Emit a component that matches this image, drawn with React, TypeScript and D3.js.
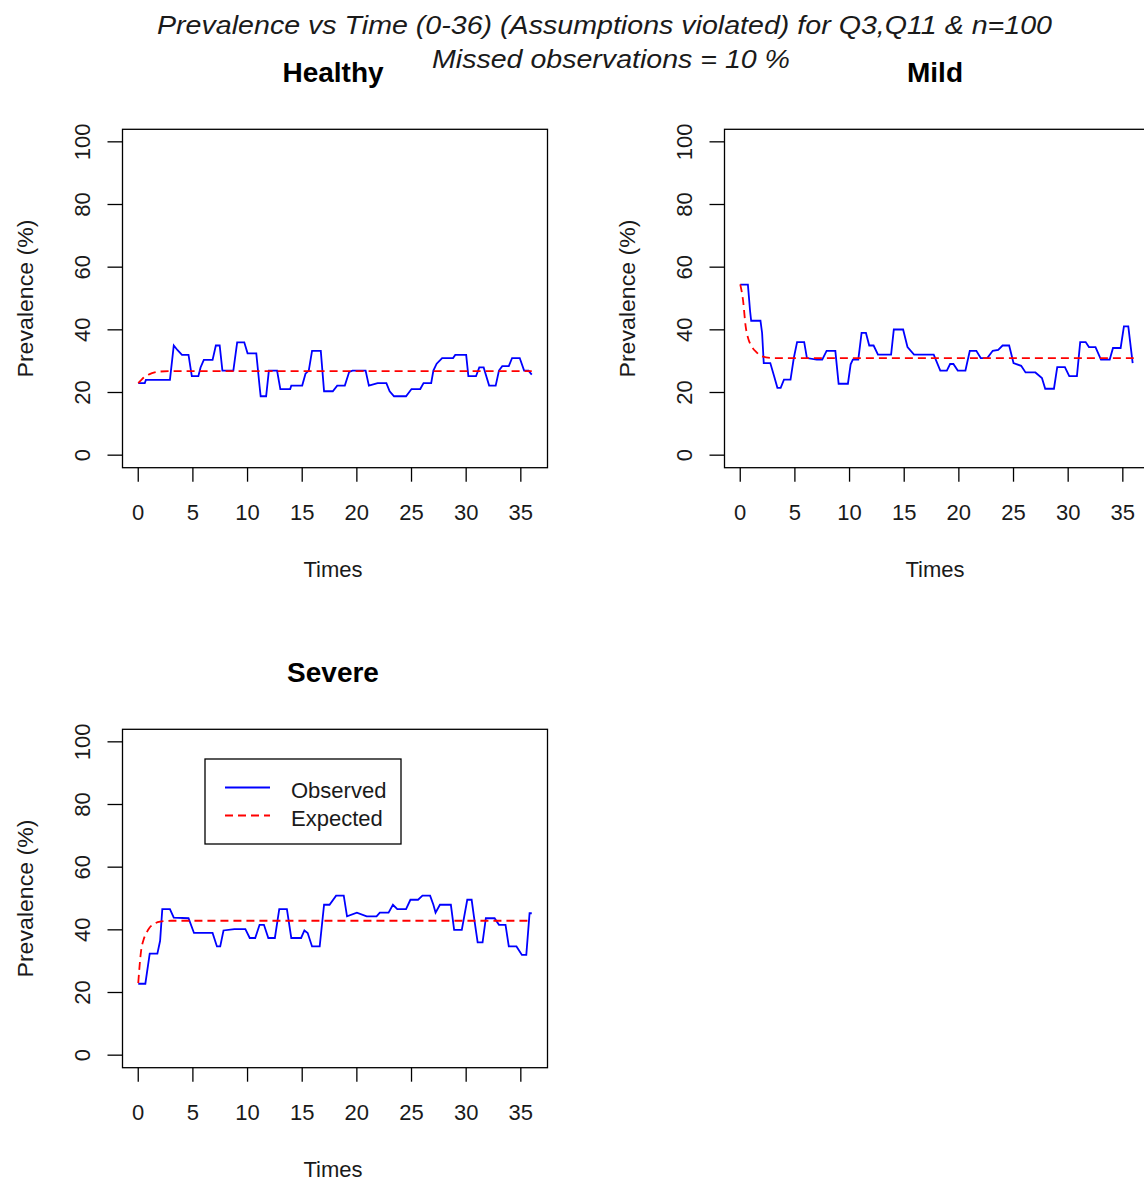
import * as d3 from "d3";

// observed prevalence (time, %)
const healthyObserved: [number, number][] = [
  [0, 23], [0.6, 23], [0.7, 24], [2.9, 24], [3.25, 35], [3.6, 33.5], [4.0, 32], [4.6, 32], [4.9, 25.2],
  [5.5, 25.2], [5.7, 28], [6.0, 30.4], [6.8, 30.4], [7.1, 35], [7.45, 35], [7.7, 27], [8.7, 27],
  [9.05, 36], [9.7, 36], [10.0, 32.5], [10.8, 32.5], [11.1, 22], [11.2, 18.8], [11.7, 18.8],
  [11.95, 27], [12.7, 27], [13.0, 21.1], [13.9, 21.1], [14.0, 22.2], [15.0, 22.2], [15.3, 26],
  [15.6, 27], [15.9, 33.3], [16.7, 33.3], [17.0, 20.4], [17.8, 20.4], [18.2, 22.2], [18.9, 22.2],
  [19.3, 26.6], [19.6, 27], [20.8, 27], [21.1, 22.2], [21.9, 23], [22.7, 23], [23.0, 20.4],
  [23.4, 18.8], [24.5, 18.8], [25.0, 21.1], [25.8, 21.1], [26.1, 23], [26.8, 23], [27.0, 27],
  [27.3, 29.2], [27.8, 31], [28.8, 31], [29.0, 32], [30.0, 32], [30.2, 25.2], [30.9, 25.2],
  [31.2, 28], [31.6, 28], [31.8, 25.7], [32.1, 22.2], [32.7, 22.2], [33.0, 27], [33.3, 28.4],
  [33.9, 28.4], [34.2, 31], [34.9, 31], [35.3, 27], [35.7, 27], [36, 25.7],
];
const mildObserved: [number, number][] = [
  [0, 54.4], [0.7, 54.4], [0.9, 46], [1.0, 42.9], [1.85, 42.9], [2.0, 39], [2.15, 29.4], [2.75, 29.4],
  [3.1, 25.2], [3.4, 21.5], [3.7, 21.5], [4.0, 24.1], [4.6, 24.1], [4.9, 31], [5.2, 36.1], [5.85, 36.1],
  [6.1, 31], [7.0, 30.5], [7.5, 30.5], [7.9, 33.3], [8.7, 33.3], [8.85, 28], [9.0, 22.8], [9.85, 22.8],
  [10.1, 29], [10.3, 30.5], [10.8, 30.5], [11.1, 39], [11.5, 39], [11.8, 35], [12.2, 35], [12.6, 32.1],
  [13.8, 32.1], [14.05, 40.1], [14.9, 40.1], [15.3, 34.5], [15.9, 32.1], [17.7, 32.1], [18.3, 27],
  [18.9, 27], [19.2, 29.1], [19.5, 29.1], [19.9, 27], [20.6, 27], [21.0, 33.3], [21.6, 33.3],
  [22.0, 31], [22.6, 31], [23.1, 33.3], [23.6, 33.6], [24.0, 35], [24.6, 35], [25.0, 29.4],
  [25.7, 28.5], [26.1, 26.4], [27.0, 26.4], [27.6, 24.6], [27.9, 21.2], [28.7, 21.2], [29.0, 28.1],
  [29.7, 28.1], [30.1, 25.2], [30.8, 25.2], [31.1, 36.1], [31.6, 36.1], [31.9, 34.5], [32.5, 34.5],
  [33.0, 30.5], [33.8, 30.5], [34.1, 34.2], [34.8, 34.2], [35.1, 41.1], [35.5, 41.1], [35.9, 29.4],
];
const severeObserved: [number, number][] = [
  [0, 22.8], [0.65, 22.8], [1.05, 32.4], [1.75, 32.4], [2.0, 36.5], [2.2, 46.6], [2.9, 46.6],
  [3.25, 43.9], [4.6, 43.7], [5.1, 39], [6.8, 39], [7.2, 34.7], [7.5, 34.7], [7.8, 39.8], [8.8, 40.2],
  [9.8, 40.2], [10.2, 37.4], [10.7, 37.4], [11.1, 41.6], [11.5, 41.6], [11.9, 37.4], [12.5, 37.4],
  [12.9, 46.6], [13.6, 46.6], [14.0, 37.4], [14.9, 37.4], [15.2, 39.8], [15.5, 39], [15.9, 34.7],
  [16.6, 34.7], [17.0, 48], [17.5, 48], [18.1, 50.9], [18.8, 50.9], [19.1, 44.3], [20.0, 45.5],
  [20.9, 44.3], [21.8, 44.3], [22.1, 45.5], [22.9, 45.5], [23.3, 48], [23.7, 46.6], [24.5, 46.6],
  [24.9, 49.6], [25.6, 49.6], [26.0, 50.9], [26.7, 50.9], [27.0, 48], [27.2, 45.5], [27.6, 48],
  [28.6, 48], [28.9, 40], [29.6, 40], [30.1, 49.6], [30.5, 49.6], [30.8, 42], [31.05, 36], [31.5, 36],
  [31.8, 43.7], [32.6, 43.7], [33.0, 41.6], [33.6, 41.6], [33.9, 34.7], [34.6, 34.7], [35.1, 32],
  [35.5, 32], [35.8, 45.3], [36, 45.3],
];

// expected prevalence (time, %)
const healthyExpected: [number, number][] = [
  [0, 23], [0.25, 23.9], [0.5, 24.8], [0.75, 25.4], [1, 25.8], [1.5, 26.4], [2, 26.7], [3, 26.8], [36, 26.8],
];
const mildExpected: [number, number][] = [
  [0, 54.5], [0.25, 49.6], [0.5, 41], [0.75, 37], [1, 35], [1.5, 32.8], [2, 31.5], [3, 31], [36, 31],
];
const severeExpected: [number, number][] = [
  [0, 23], [0.25, 33], [0.5, 37], [0.75, 39], [1, 40.5], [1.5, 42], [2, 42.6], [3, 42.9], [36, 42.9],
];

const xTicks = [0, 5, 10, 15, 20, 25, 30, 35];
const yTicks = [0, 20, 40, 60, 80, 100];

const FONT = "'Liberation Sans', Arial, sans-serif";
const INK = "#1a1a1a";
const BOX_W = 425;
const BOX_H = 338.4;

interface PanelProps {
  title: string;
  left: number;
  top: number;
  observed: [number, number][];
  expected: [number, number][];
  legend?: boolean;
}

const Panel = ({ title, left, top, observed, expected, legend }: PanelProps) => {
  const x = d3.scaleLinear().domain([-1.44, 37.44]).range([left, left + BOX_W]);
  const y = d3.scaleLinear().domain([-4, 104]).range([top + BOX_H, top]);
  const line = d3.line<[number, number]>().x((d) => x(d[0])).y((d) => y(d[1]));
  const smooth = d3
    .line<[number, number]>()
    .x((d) => x(d[0]))
    .y((d) => y(d[1]))
    .curve(d3.curveMonotoneX);
  const bottom = top + BOX_H;
  const cx = left + BOX_W / 2;

  return (
    <g>
      <text x={cx - 2} y={top - 47} textAnchor="middle" fontSize={28} fontWeight="bold" fontFamily={FONT} fill="#000">
        {title}
      </text>
      <rect x={left} y={top} width={BOX_W} height={BOX_H} fill="none" stroke="#000" strokeWidth={1.3} />
      {xTicks.map((t) => (
        <g key={"x" + t}>
          <line x1={x(t)} x2={x(t)} y1={bottom} y2={bottom + 14} stroke="#000" strokeWidth={1.3} />
          <text x={x(t)} y={bottom + 52} textAnchor="middle" fontSize={22} fontFamily={FONT} fill={INK}>
            {t}
          </text>
        </g>
      ))}
      {yTicks.map((t) => (
        <g key={"y" + t}>
          <line x1={left} x2={left - 15} y1={y(t)} y2={y(t)} stroke="#000" strokeWidth={1.3} />
          <text
            transform={`translate(${left - 33},${y(t)}) rotate(-90)`}
            textAnchor="middle"
            fontSize={22}
            fontFamily={FONT}
            fill={INK}
          >
            {t}
          </text>
        </g>
      ))}
      <text x={cx - 2} y={bottom + 109} textAnchor="middle" fontSize={22} fontFamily={FONT} fill={INK}>
        Times
      </text>
      <text
        transform={`translate(${left - 90},${top + BOX_H / 2}) rotate(-90)`}
        textAnchor="middle"
        fontSize={22}
        fontFamily={FONT}
        fill={INK}
        textLength={158}
        lengthAdjust="spacingAndGlyphs"
      >
        Prevalence (%)
      </text>
      <path d={line(observed) ?? ""} fill="none" stroke="#0000ff" strokeWidth={1.8} />
      <path d={smooth(expected) ?? ""} fill="none" stroke="#ff0000" strokeWidth={1.8} strokeDasharray="8,5" />
      {legend && (
        <g transform={`translate(${left + 82.5},${top + 29.7})`}>
          <rect width={196} height={85} fill="#fff" stroke="#000" strokeWidth={1.3} />
          <line x1={20} x2={65} y1={28.5} y2={28.5} stroke="#0000ff" strokeWidth={1.8} />
          <line x1={20} x2={65} y1={56.5} y2={56.5} stroke="#ff0000" strokeWidth={1.8} strokeDasharray="8,5" />
          <text x={86} y={39} fontSize={22} fontFamily={FONT} fill={INK}>Observed</text>
          <text x={86} y={66.5} fontSize={22} fontFamily={FONT} fill={INK}>Expected</text>
        </g>
      )}
    </g>
  );
};

export default function App() {
  return (
    <svg
      width={1144}
      height={1182}
      style={{ display: "block", position: "absolute", left: 0, top: 0 }}
      overflow="hidden"
    >
      <rect width={1144} height={1182} fill="#fff" />
      <text
        x={604.5}
        y={33.5}
        textAnchor="middle"
        fontSize={26}
        fontStyle="italic"
        fontFamily={FONT}
        fill={INK}
        textLength={895}
        lengthAdjust="spacingAndGlyphs"
      >
        Prevalence vs Time (0-36) (Assumptions violated) for Q3,Q11 &amp; n=100
      </text>
      <text
        x={611}
        y={68}
        textAnchor="middle"
        fontSize={26}
        fontStyle="italic"
        fontFamily={FONT}
        fill={INK}
        textLength={358}
        lengthAdjust="spacingAndGlyphs"
      >
        Missed observations = 10 %
      </text>
      <Panel title="Healthy" left={122.5} top={129.3} observed={healthyObserved} expected={healthyExpected} />
      <Panel title="Mild" left={724.5} top={129.3} observed={mildObserved} expected={mildExpected} />
      <Panel title="Severe" left={122.5} top={729.3} observed={severeObserved} expected={severeExpected} legend />
    </svg>
  );
}
